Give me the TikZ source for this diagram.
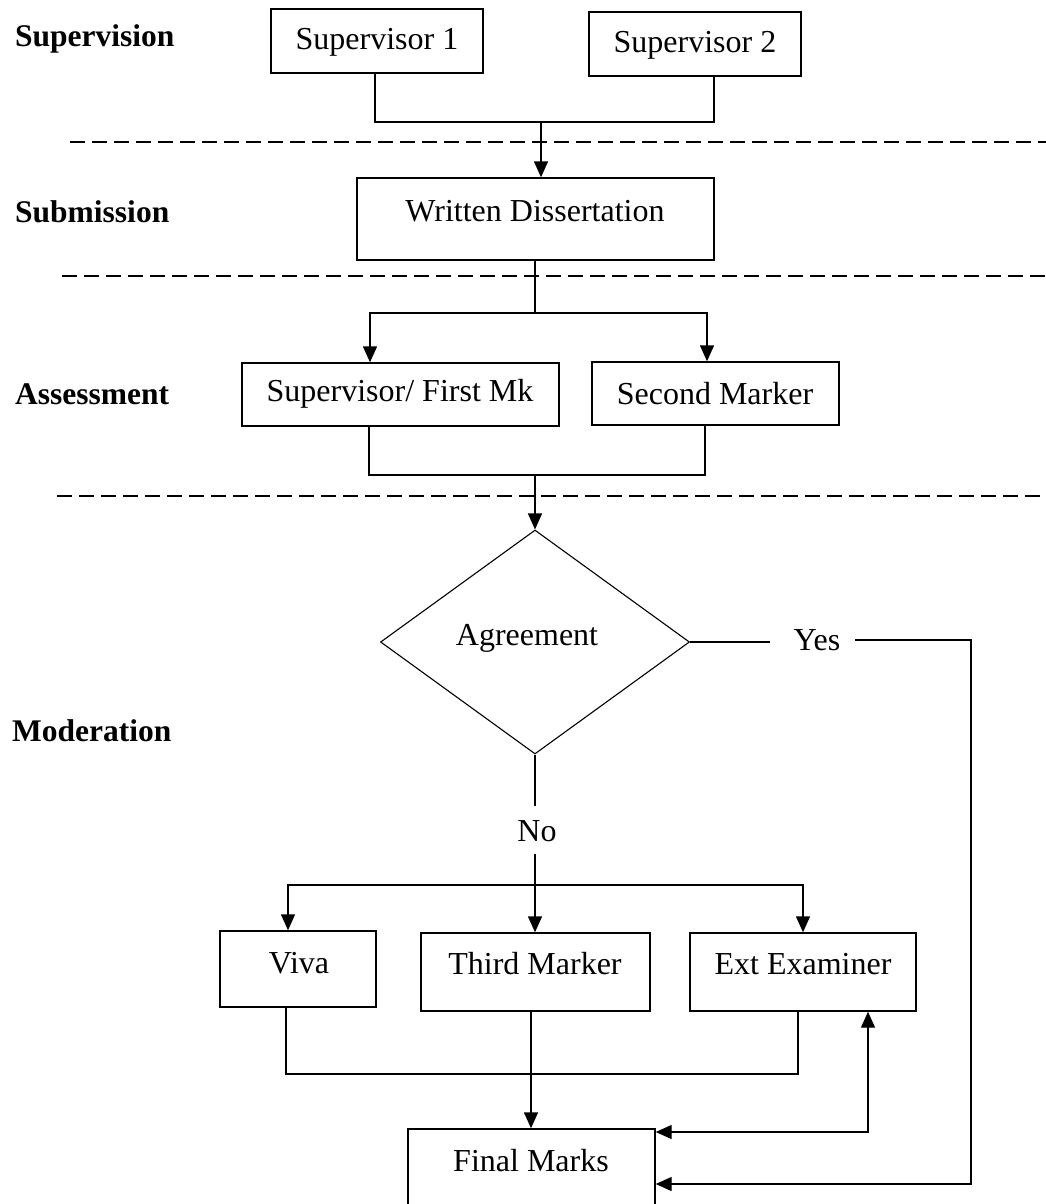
\documentclass[tikz,border=0pt]{standalone}
\usepackage{fontspec}
\setmainfont{Liberation Serif}
\usetikzlibrary{shapes.geometric,arrows.meta}
\begin{document}
\begin{tikzpicture}[x=1pt,y=-1pt,
  box/.style={draw,line width=1.4pt,rectangle,inner sep=0pt},
  txt/.style={inner sep=0pt,font=\fontsize{32}{37}\selectfont},
  lab/.style={inner sep=0pt,anchor=west,font=\fontsize{31.5}{37}\selectfont\bfseries},
  con/.style={line width=1.4pt},
  arr/.style={con,-{Triangle[length=16pt,width=14pt]}},
  darr/.style={con,{Triangle[length=16pt,width=14pt]}-{Triangle[length=16pt,width=14pt]}},
  sepline/.style={line width=1.6pt,dash pattern=on 15pt off 7pt}]
\useasboundingbox (0,0) rectangle (1046,1204);
% separators
\coordinate (s1a) at (70,142); \coordinate (s1b) at (1046,142);
\coordinate (s2a) at (62,276); \coordinate (s2b) at (1046,276);
\coordinate (s3a) at (57,496); \coordinate (s3b) at (1046,496);
\draw[sepline] (s1a) -- (s1b);
\draw[sepline] (s2a) -- (s2b);
\draw[sepline] (s3a) -- (s3b);
% stage labels
\node[lab] (lsup) at (15,39) {Supervision};
\node[lab] (lsub) at (15,212) {Submission};
\node[lab] (lass) at (15,394) {Assessment};
\node[lab] (lmod) at (12,731) {Moderation};
% boxes
\node[box,minimum width=212pt,minimum height=64pt] (sup1) at (377,41) {};
\node[txt] (sup1t) at (377,42) {Supervisor 1};
\node[box,minimum width=212pt,minimum height=64pt] (sup2) at (695,44) {};
\node[txt] (sup2t) at (695,45) {Supervisor 2};
\node[box,minimum width=357pt,minimum height=82pt] (wd) at (535.5,219) {};
\node[txt] (wdt) at (535,211) {Written Dissertation};
\node[box,minimum width=317pt,minimum height=63pt] (sfm) at (400.5,394.5) {};
\node[txt] (sfmt) at (400,394) {Supervisor/ First Mk};
\node[box,minimum width=247pt,minimum height=63pt] (sm) at (715.5,393.5) {};
\node[txt] (smt) at (715,394) {Second Marker};
\node[draw,line width=1.1pt,diamond,inner sep=0pt,minimum width=309pt,minimum height=224pt] (dia) at (535,642) {};
\node[txt] (diat) at (527,638) {Agreement};
\node[txt] (yes) at (817,640) {Yes};
\node[txt] (no) at (537,831) {No};
\node[box,minimum width=156pt,minimum height=76pt] (viva) at (298,969) {};
\node[txt] (vivat) at (299,963) {Viva};
\node[box,minimum width=229pt,minimum height=78pt] (tm) at (535.5,972) {};
\node[txt] (tmt) at (535,964) {Third Marker};
\node[box,minimum width=226pt,minimum height=78pt] (ext) at (803,972) {};
\node[txt] (extt) at (803,964) {Ext Examiner};
\node[box,minimum width=247pt,minimum height=100pt] (fm) at (531.5,1179) {};
\node[txt] (fmt) at (531,1161) {Final Marks};
% supervision merge
\coordinate (j1a) at (375,122); \coordinate (j1b) at (714,122); \coordinate (j1) at (541,122);
\draw[con] (sup1.south -| j1a) -- (j1a) -- (j1b) -- (sup2.south -| j1b);
\draw[arr] (j1) -- (wd.north -| j1);
% submission split
\coordinate (j2) at (535,313); \coordinate (j2a) at (370,313); \coordinate (j2b) at (707,313);
\draw[con] (wd.south -| j2) -- (j2);
\draw[arr] (j2) -- (j2a) -- (sfm.north -| j2a);
\draw[arr] (j2) -- (j2b) -- (sm.north -| j2b);
% assessment merge
\coordinate (j3a) at (369,475); \coordinate (j3b) at (705,475); \coordinate (j3) at (535,475);
\draw[con] (sfm.south -| j3a) -- (j3a) -- (j3b) -- (sm.south -| j3b);
\draw[arr] (j3) -- (dia.north);
% yes branch
\coordinate (yl) at (770,642); \coordinate (yr) at (855,640); \coordinate (yc) at (971,640);
\coordinate (yd) at (971,1184);
\draw[con] (dia.east) -- (yl);
\draw[arr] (yr) -- (yc) -- (yd) -- (fm.east |- yd);
% no branch
\coordinate (na) at (535,806); \coordinate (nb) at (535,854);
\coordinate (j4) at (535,885); \coordinate (j4a) at (288,885); \coordinate (j4b) at (803,885);
\draw[con] (dia.south) -- (na);
\draw[con] (nb) -- (j4);
\draw[arr] (j4) -- (tm.north -| j4);
\draw[arr] (j4) -- (j4a) -- (viva.north -| j4a);
\draw[arr] (j4) -- (j4b) -- (ext.north -| j4b);
% bottom merge
\coordinate (j5a) at (286,1074); \coordinate (j5b) at (798,1074);
\draw[con] (viva.south -| j5a) -- (j5a) -- (j5b) -- (ext.south -| j5b);
\coordinate (j6) at (531,1011);
\draw[arr] (j6) -- (fm.north -| j6);
% ext examiner loop
\coordinate (e1) at (868,1132);
\draw[darr] (fm.east |- e1) -- (e1) -- (ext.south -| e1);
\end{tikzpicture}
\end{document}
